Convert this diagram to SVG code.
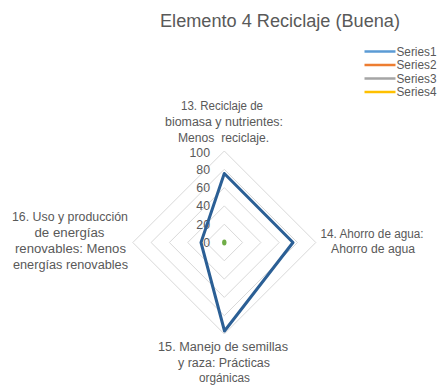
<svg xmlns="http://www.w3.org/2000/svg" width="438" height="387" viewBox="0 0 438 387">
<style>
text{font-family:"Liberation Sans",Arial,sans-serif;fill:#595959}
.t{font-size:18.7px}
.l{font-size:12.3px;text-anchor:middle}
.v{font-size:12.3px;text-anchor:end}
.g{font-size:12.3px}
.grid{fill:none;stroke:#d9d9d9;stroke-width:1}
.lg{stroke-width:2.5;fill:none}
</style>
<rect width="438" height="387" fill="#ffffff"/>
<text class="t" x="280" y="27" text-anchor="middle" textLength="240" lengthAdjust="spacingAndGlyphs">Elemento 4 Reciclaje (Buena)</text>
<g id="grid">
<polygon class="grid" points="224.3,224.2 242.6,242.5 224.3,260.8 206,242.5"/>
<polygon class="grid" points="224.3,205.9 260.9,242.5 224.3,279.1 187.7,242.5"/>
<polygon class="grid" points="224.3,187.6 279.2,242.5 224.3,297.4 169.4,242.5"/>
<polygon class="grid" points="224.3,169.3 297.5,242.5 224.3,315.7 151.1,242.5"/>
<polygon class="grid" points="224.3,151 315.8,242.5 224.3,334 132.8,242.5"/>
</g>
<g id="values">
<text class="v" x="210" y="156.5">100</text>
<text class="v" x="210" y="173.8">80</text>
<text class="v" x="210" y="192.1">60</text>
<text class="v" x="210" y="210.4">40</text>
<text class="v" x="210" y="228.7">20</text>
<text class="v" x="210" y="247">0</text>
</g>
<g id="connectors">
<polygon points="224.3,173.5 293,242.5 224.5,331 201,242.5" fill="none" stroke="#2b5f95" stroke-width="3" stroke-linejoin="round"/>
<ellipse cx="224.3" cy="242.5" rx="2.2" ry="3" fill="#70ad47"/>
</g>
<g id="axis13">
<text class="l" x="222" y="109.5" textLength="82" lengthAdjust="spacingAndGlyphs">13. Reciclaje de</text>
<text class="l" x="224" y="125.8" textLength="118" lengthAdjust="spacingAndGlyphs">biomasa y nutrientes:</text>
<text class="l" x="223.5" y="142" textLength="91" lengthAdjust="spacingAndGlyphs" style="white-space:pre">Menos  reciclaje.</text>
</g>
<g id="axis14">
<text class="l" x="372" y="237.5" textLength="103" lengthAdjust="spacingAndGlyphs">14. Ahorro de agua:</text>
<text class="l" x="373" y="253" textLength="84" lengthAdjust="spacingAndGlyphs">Ahorro de agua</text>
</g>
<g id="axis15">
<text class="l" x="223" y="351" textLength="130" lengthAdjust="spacingAndGlyphs">15. Manejo de semillas</text>
<text class="l" x="224" y="366.5" textLength="92" lengthAdjust="spacingAndGlyphs">y raza: Prácticas</text>
<text class="l" x="224.5" y="381.5" textLength="51" lengthAdjust="spacingAndGlyphs">orgánicas</text>
</g>
<g id="axis16">
<text class="l" x="70" y="220.5" textLength="116" lengthAdjust="spacingAndGlyphs">16. Uso y producción</text>
<text class="l" x="69.5" y="236.5" textLength="70" lengthAdjust="spacingAndGlyphs">de energías</text>
<text class="l" x="70.5" y="253" textLength="111" lengthAdjust="spacingAndGlyphs">renovables: Menos</text>
<text class="l" x="70.5" y="269" textLength="115" lengthAdjust="spacingAndGlyphs">energías renovables</text>
</g>
<g id="legend">
<line class="lg" x1="364.5" y1="51.5" x2="395.5" y2="51.5" stroke="#5b9bd5"/>
<line class="lg" x1="364.5" y1="65" x2="395.5" y2="65" stroke="#ed7d31"/>
<line class="lg" x1="364.5" y1="78.5" x2="395.5" y2="78.5" stroke="#a5a5a5"/>
<line class="lg" x1="364.5" y1="92" x2="395.5" y2="92" stroke="#ffc000"/>
<text class="g" x="396.5" y="55.8" textLength="40" lengthAdjust="spacingAndGlyphs">Series1</text>
<text class="g" x="396.5" y="69.3" textLength="40" lengthAdjust="spacingAndGlyphs">Series2</text>
<text class="g" x="396.5" y="82.8" textLength="40" lengthAdjust="spacingAndGlyphs">Series3</text>
<text class="g" x="396.5" y="96.3" textLength="40" lengthAdjust="spacingAndGlyphs">Series4</text>
</g>
</svg>
